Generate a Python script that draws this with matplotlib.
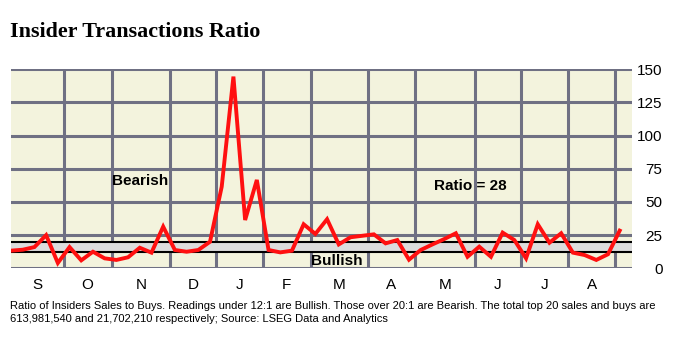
import matplotlib
matplotlib.use('Agg')
import matplotlib.pyplot as plt
import numpy as np

# weekly insider sales/buys ratio
ratio = [13.3, 14, 16, 25, 4, 16, 6, 12.5, 7.5, 6.3,
         8.3, 15.5, 11.8, 31.4, 13.8, 12.5, 13.8, 20, 61.5, 144.5,
         36.4, 66.6, 13.8, 12, 13.3, 33.2, 25.9, 37, 18, 23.4,
         24.5, 25.6, 18.8, 21.3, 6.5, 13.8, 18, 22, 26.4, 8.7,
         16.3, 8.7, 26.9, 21.3, 7.5, 33.2, 19.3, 26.4, 11.8, 10,
         6.3, 10.6, 28.4]
months = ['S', 'O', 'N', 'D', 'J', 'F', 'M', 'A', 'M', 'J', 'J', 'A']
# month boundaries in week units
month_edges = [0, 4.5, 8.6, 13.6, 17.5, 21.5, 25.6, 30.5, 34.5, 39.6, 43.6, 47.6, 51.6]
yticks = [0, 25, 50, 75, 100, 125, 150]
bullish, bearish = 12, 20
last_ratio = 28

plt.rcParams['font.family'] = ['Liberation Sans', 'DejaVu Sans']

fig = plt.figure(figsize=(6.8, 3.51), dpi=100)
ax = fig.add_axes([0.0162, 0.2356, 0.9132, 0.567])
ax.set_facecolor('#f3f3dd')

x = np.arange(len(ratio))
ax.set_xlim(0, 53.05)
ax.set_ylim(0, 150)

grid = '#6f7083'
for y in yticks:
    ax.axhline(y, color=grid, lw=2.2, zorder=1)
for e in month_edges[1:]:
    ax.axvline(e, color=grid, lw=2.2, zorder=1)

# bullish/bearish band
ax.axhspan(bullish, bearish, color='#dcdcdc', zorder=1.5, lw=0)
ax.axhline(bullish, color='black', lw=1.5, zorder=2)
ax.axhline(bearish, color='black', lw=1.5, zorder=2)

ax.plot(x, ratio, color='#ff1010', lw=2.8, zorder=3, solid_joinstyle='miter')

for s in ax.spines.values():
    s.set_visible(False)

ax.yaxis.tick_right()
ax.set_yticks(yticks)
ax.set_yticklabels([str(v) for v in yticks])
ax.tick_params(axis='y', length=0, pad=22, labelsize=11)
for t in ax.get_yticklabels():
    t.set_horizontalalignment('right')

centers = [(a + b) / 2 for a, b in zip(month_edges[:-1], month_edges[1:])]
ax.set_xticks(centers)
ax.set_xticklabels(months)
ax.tick_params(axis='x', length=0, pad=7, labelsize=11)

ax.text(11, 66, 'Bearish', ha='center', va='center', fontsize=11, fontweight='bold', zorder=4)
ax.text(39.2, 62, 'Ratio = %d' % last_ratio, ha='center', va='center', fontsize=11,
        fontweight='bold', zorder=4)
ax.text(27.8, 5.5, 'Bullish', ha='center', va='center', fontsize=11, fontweight='bold', zorder=4)

fig.text(0.0147, 0.908, 'Insider Transactions Ratio', ha='left', va='center',
         fontsize=15.8, fontweight='bold', family='Liberation Serif')

fig.text(0.0147, 0.109,
         'Ratio of Insiders Sales to Buys. Readings under 12:1 are Bullish. Those over 20:1 are Bearish. '
         'The total top 20 sales and buys are\n613,981,540 and 21,702,210 respectively; Source: LSEG Data and Analytics',
         ha='left', va='center', fontsize=8, linespacing=1.4)

fig.savefig('out.png', dpi=100, facecolor='white')
